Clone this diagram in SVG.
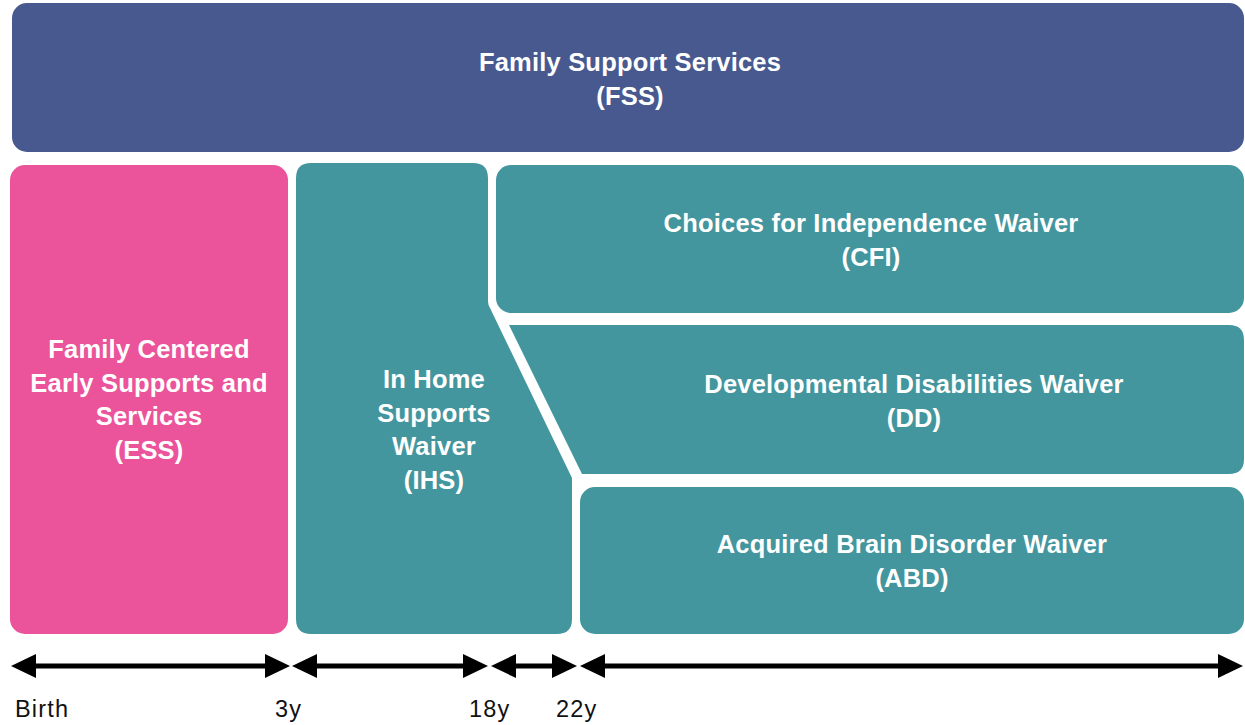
<svg xmlns="http://www.w3.org/2000/svg" width="1245" height="725" viewBox="0 0 1245 725">
  <style>
    .fss { fill: #48598f; }
    .teal { fill: #43969e; }
    .pink { fill: #eb539b; }
    .lbl { font-family: "Liberation Sans", Arial, Helvetica, sans-serif; font-weight: bold; font-size: 25.5px; letter-spacing: 0.2px; fill: #ffffff; text-anchor: middle; }
    .age { font-family: "Liberation Sans", Arial, Helvetica, sans-serif; font-size: 23.5px; letter-spacing: 1.2px; fill: #111111; }
    .span { stroke: #000000; stroke-width: 5; fill: none; marker-start: url(#head); marker-end: url(#head); }
  </style>
  <defs>
    <marker id="head" markerUnits="userSpaceOnUse" markerWidth="25" markerHeight="24" viewBox="0 0 25 24" refX="0" refY="12" orient="auto-start-reverse">
      <path d="M0,0 L25,12 L0,24 Z" fill="#000000"/>
    </marker>
  </defs>
  <rect width="1245" height="725" fill="#ffffff"/>

  <g id="fss">
    <rect class="fss" x="12" y="3" width="1232" height="149" rx="15"/>
    <text class="lbl" x="630" y="71">Family Support Services</text>
    <text class="lbl" x="630" y="105">(FSS)</text>
  </g>

  <g id="ess">
    <rect class="pink" x="10" y="165" width="278" height="469" rx="15"/>
    <text class="lbl" x="149" y="358">Family Centered</text>
    <text class="lbl" x="149" y="391.5">Early Supports and</text>
    <text class="lbl" x="149" y="425">Services</text>
    <text class="lbl" x="149" y="458.5">(ESS)</text>
  </g>

  <g id="ihs">
    <path class="teal" d="M311,163 H473 Q488,163 488,178 V301 Q488,305 490,308 L572,478 V619 Q572,634 557,634 H311 Q296,634 296,619 V178 Q296,163 311,163 Z"/>
    <text class="lbl" x="434" y="388">In Home</text>
    <text class="lbl" x="434" y="421.5">Supports</text>
    <text class="lbl" x="434" y="455">Waiver</text>
    <text class="lbl" x="434" y="488.5">(IHS)</text>
  </g>

  <g id="cfi">
    <rect class="teal" x="496" y="165" width="748" height="148" rx="15"/>
    <text class="lbl" x="871" y="232">Choices for Independence Waiver</text>
    <text class="lbl" x="871" y="266">(CFI)</text>
  </g>

  <g id="dd">
    <path class="teal" d="M509,325 H1229 Q1244,325 1244,340 V459 Q1244,474 1229,474 H582 Z"/>
    <text class="lbl" x="914" y="393">Developmental Disabilities Waiver</text>
    <text class="lbl" x="914" y="427">(DD)</text>
  </g>

  <g id="abd">
    <rect class="teal" x="580" y="487" width="664" height="147" rx="15"/>
    <text class="lbl" x="912" y="553">Acquired Brain Disorder Waiver</text>
    <text class="lbl" x="912" y="587">(ABD)</text>
  </g>

  <g id="connectors">
    <path class="span" d="M36,666 H265"/>
    <path class="span" d="M317,666 H463"/>
    <path class="span" d="M516,666 H552"/>
    <path class="span" d="M605,666 H1218"/>
  </g>

  <g id="ages">
    <text class="age" x="15" y="717">Birth</text>
    <text class="age" x="275" y="717">3y</text>
    <text class="age" x="469" y="717">18y</text>
    <text class="age" x="556" y="717">22y</text>
  </g>
</svg>
